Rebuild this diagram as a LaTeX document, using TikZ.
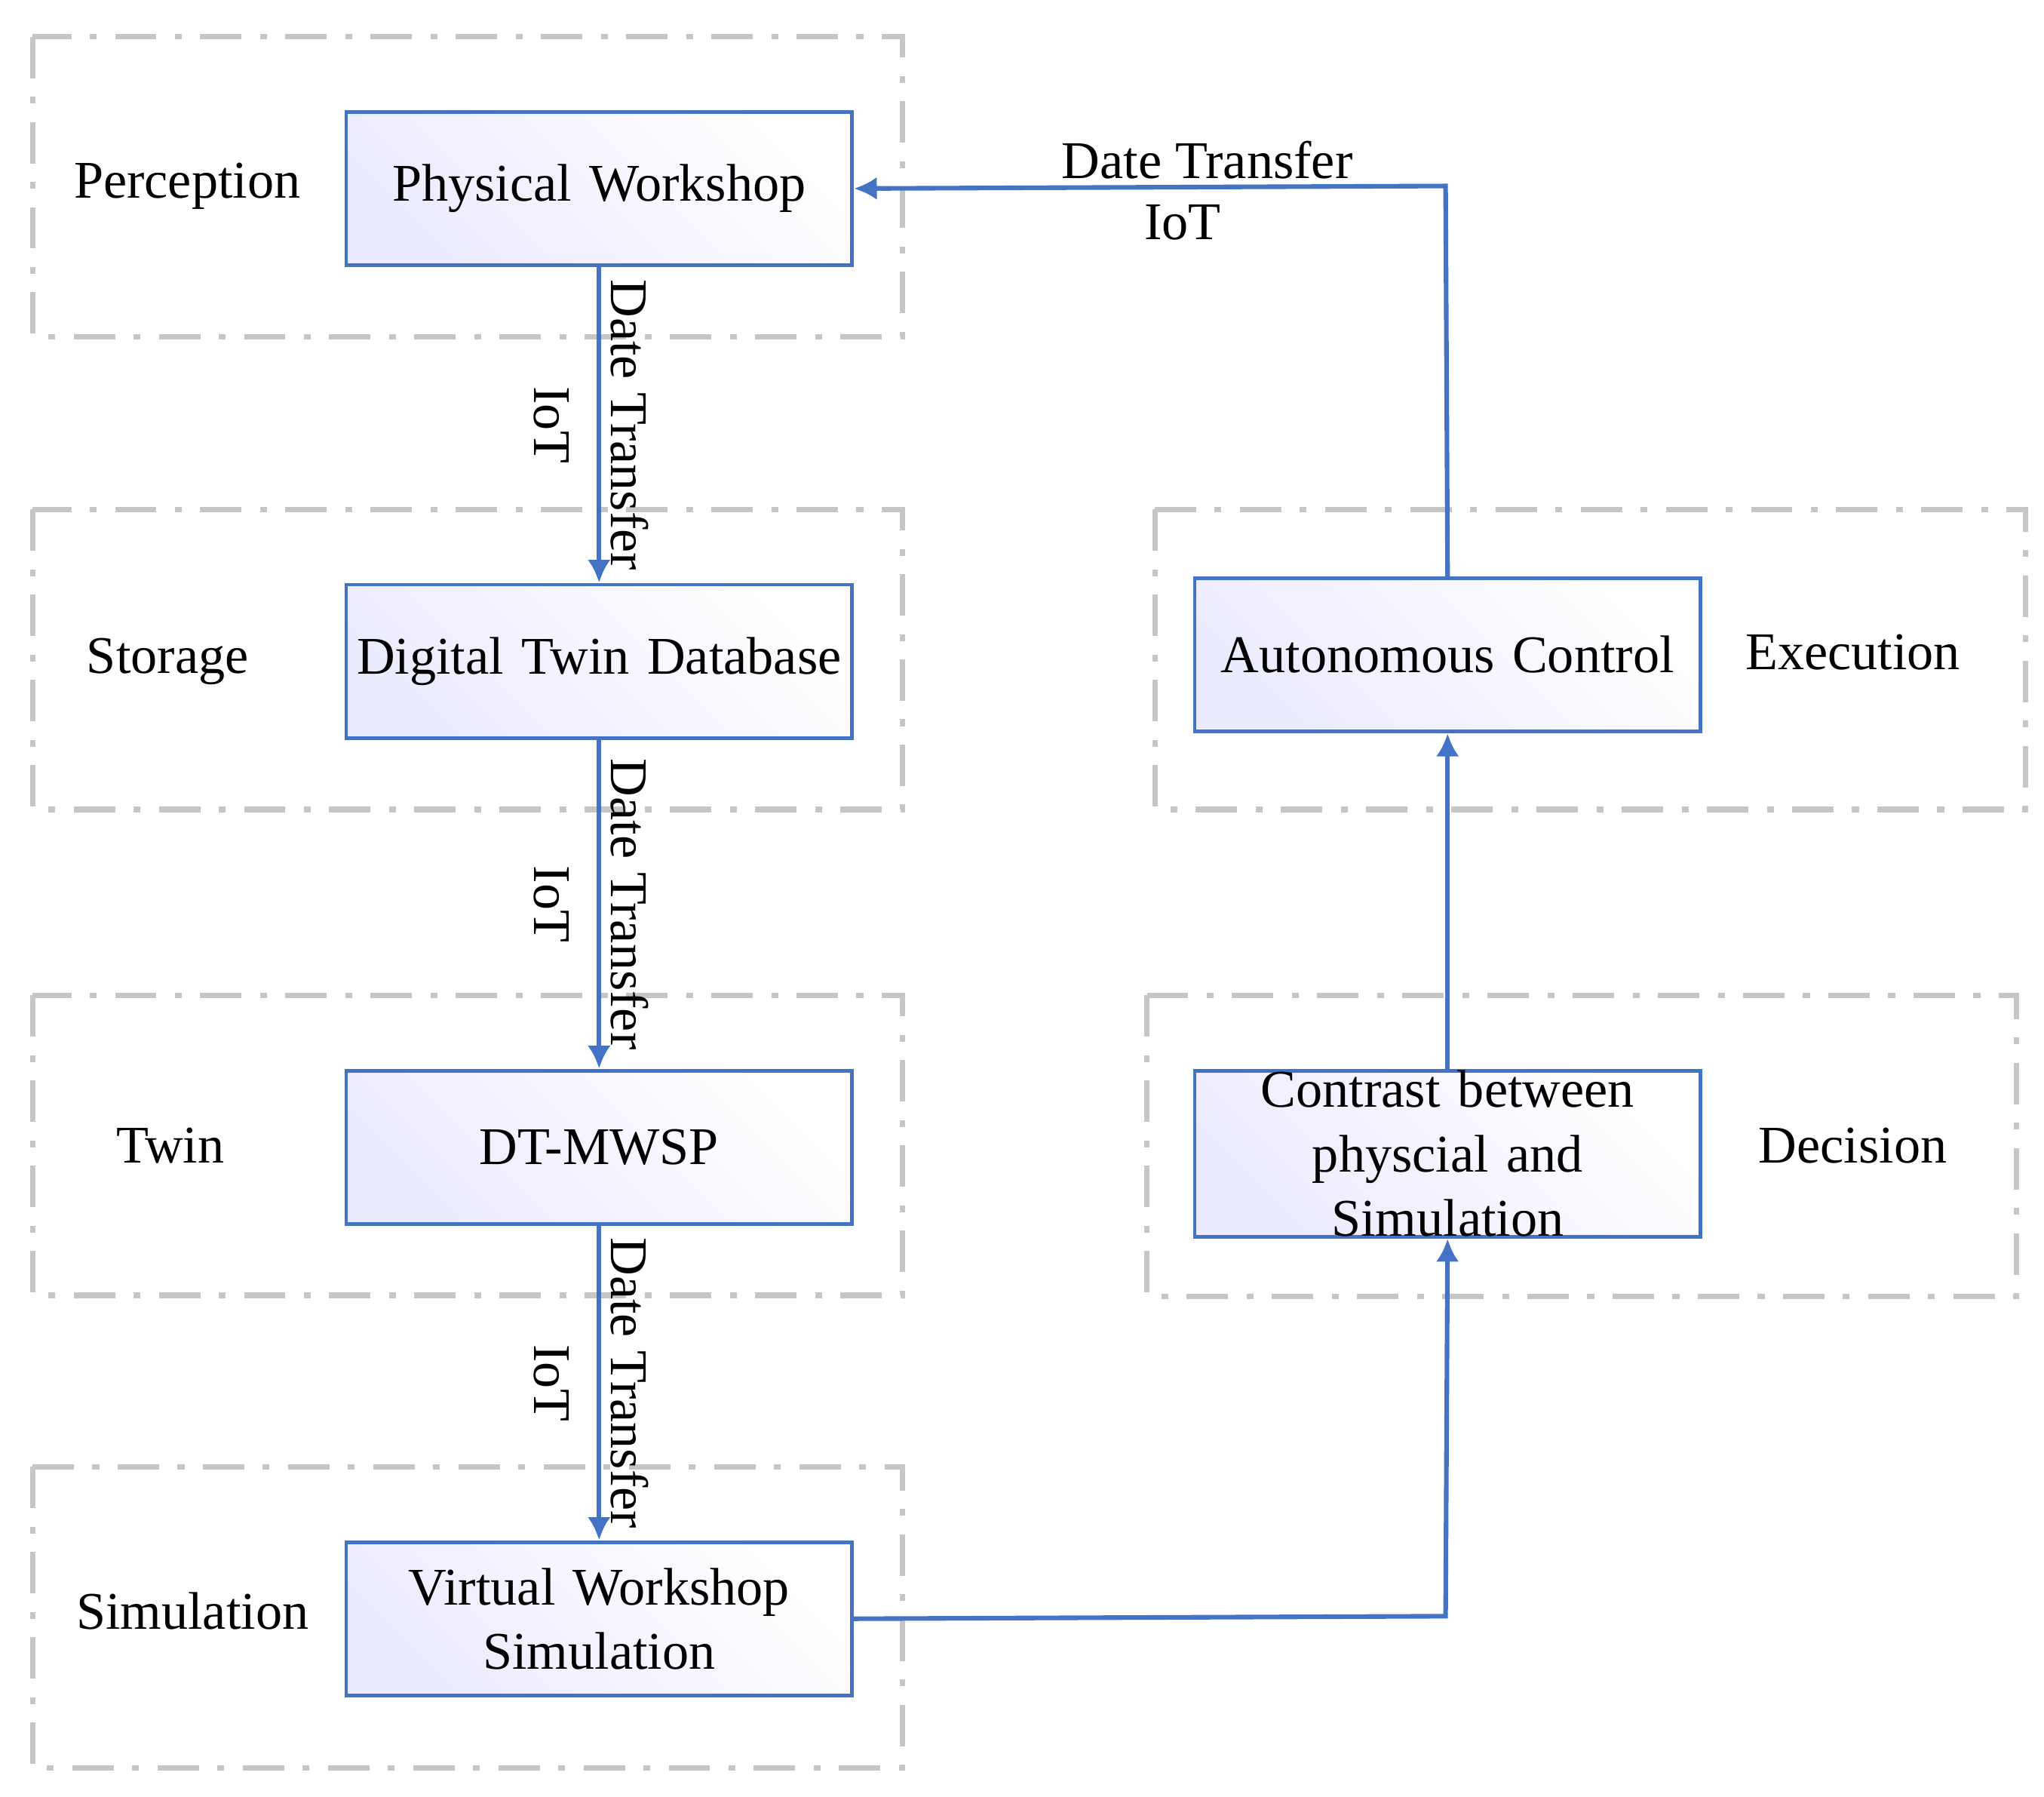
\documentclass[tikz,border=0pt]{standalone}
\usepackage{fontspec}
\setmainfont{Liberation Serif}
\usetikzlibrary{arrows.meta}
\definecolor{bl}{RGB}{68,114,196}
\begin{document}
\begin{tikzpicture}[x=0.01cm,y=-0.01cm,
  box/.style={draw=bl, line width=0.8pt, text width=3.8cm, minimum width=3.86cm, minimum height=1.17cm, anchor=north west, align=center, inner sep=0pt, shading=axis, left color=blue!8, right color=white, shading angle=135, font=\fontsize{11.5}{14}\selectfont},
  grp/.style={draw=gray!45, line width=1.2pt, dash pattern=on 9pt off 4pt on 1.5pt off 4pt},
  lab/.style={font=\fontsize{11.5}{14}\selectfont},
  arr/.style={draw=bl, line width=1pt, -{Latex[length=5pt,width=5pt]}},
  ]
\useasboundingbox (0,0) rectangle (1561,1372);
\draw[grp] (25,28) rectangle (689,257);
\draw[grp] (25,389) rectangle (689,618);
\draw[grp] (25,760) rectangle (689,989);
\draw[grp] (25,1120) rectangle (689,1350);
\draw[grp] (882,389) rectangle (1547,618);
\draw[grp] (876,760) rectangle (1540,990);
\node[box] (pw) at (263,84) {Physical Workshop};
\node[box] (db) at (263,445) {Digital Twin Database};
\node[box] (dt) at (263,816) {DT-MWSP};
\node[box] (vw) at (263,1176) {Virtual Workshop\\Simulation};
\node[box] (ac) at (911,440) {Autonomous Control};
\node[box] (cs) at (911,816) {Contrast between\\physcial and Simulation};
\node[lab] (l1) at (143,142) {Perception};
\node[lab] (l2) at (128,505) {Storage};
\node[lab] (l3) at (130,875) {Twin};
\node[lab] (l4) at (147,1230) {Simulation};
\node[lab] (l5) at (1415,498) {Execution};
\node[lab] (l6) at (1415,875) {Decision};
\foreach \a/\b in {pw/db,db/dt,dt/vw}{
  \draw[arr] (\a.south) -- (\b.north) node[midway,rotate=-90,above,lab,inner sep=2pt]{Date Transfer} node[midway,rotate=-90,below,lab,inner sep=6pt]{IoT};
}
\coordinate (c1) at (1104,142);
\coordinate (c2) at (1104,1234);
\draw[arr] (ac.north) -- (c1) -- (pw.east);
\node[lab] (t1) at (922,122) {Date Transfer};
\node[lab] (t2) at (903,170) {IoT};
\draw[arr] (vw.east) -- (c2) -- (cs.south);
\draw[arr] (cs.north) -- (ac.south);
\end{tikzpicture}
\end{document}
